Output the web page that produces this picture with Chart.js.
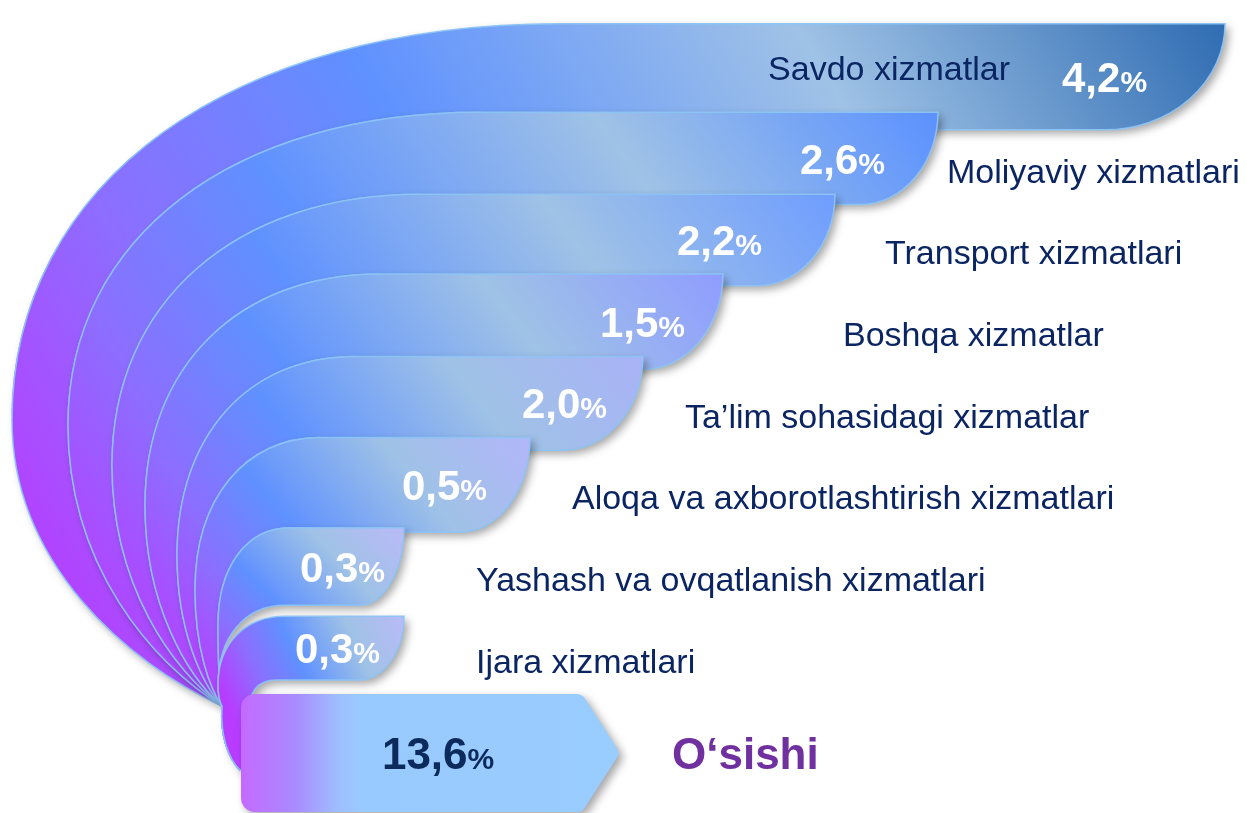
<!DOCTYPE html>
<html>
<head>
<meta charset="utf-8">
<script src="https://cdn.jsdelivr.net/npm/chart.js@4/dist/chart.umd.min.js"></script>
<style>
  html, body { margin: 0; padding: 0; background: #fff; }
  canvas { display: block; }
</style>
</head>
<body>
<canvas id="growthChart" width="1247" height="813"></canvas>
<script>
// --- data -------------------------------------------------------------
const sectors = [
  'Savdo xizmatlar',
  'Moliyaviy xizmatlari',
  'Transport xizmatlari',
  'Boshqa xizmatlar',
  'Ta\u2019lim sohasidagi xizmatlar',
  'Aloqa va axborotlashtirish xizmatlari',
  'Yashash va ovqatlanish xizmatlari',
  'Ijara xizmatlari'
];
const growth = [4.2, 2.6, 2.2, 1.5, 2.0, 0.5, 0.3, 0.3];
const totalLabel = 'O\u2018sishi';
const totalGrowth = [13.6];

// --- look of the swooshes (decorative, not data) ----------------------
const FONT = '"Liberation Sans", Arial, sans-serif';
const TIP = [240, 770];          // where all band tails end (under the arrow)
const JOIN = [222, 706];         // where the tails bundle together
const K = 0.6;                   // roundness of the top-left arcs
const bandStyle = {
  reach:    [98.24, 75.22, 66.96, 57.98, 51.56, 42.5, 32.4, 32.4], // x-axis units (% of width)
  flatFrom: [560, 480, 420, 380, 355, 320, 290, 285],
  leftX:    [12, 68, 112, 145, 177, 195, 218, 218],
  leftY:    [420, 425, 465, 505, 555, 590, 625, 685],
  thick:    [1.3, 1.13, 1.12, 1.17, 1.15, 1.16, 0.95, 0.78],
  capW:     [120, 78, 78, 80, 80, 70, 45, 45],
  pctInset: [78, 53, 73, 38, 36, 43, 19, 24],
  labelGap: [null, 9, 50, 120, 42, 42, 72, 72],
  endColor: ['#2f6cb2', '#5b91ff', '#6f9dff', '#8f9cff', '#a9b2f7', '#b2b6fa', '#babaf8', '#babaf8']
};

const fmt = v => v.toFixed(1).replace('.', ',');

function bandGeom(chart, i) {
  const bar = chart.getDatasetMeta(0).data[i];
  const h = bar.height * bandStyle.thick[i];
  return {
    cy: bar.y,
    top: bar.y - h / 2,
    bottom: bar.y + h / 2,
    right: chart.scales.x.getPixelForValue(bandStyle.reach[i]),
    flat: bandStyle.flatFrom[i],
    lx: bandStyle.leftX[i],
    ly: bandStyle.leftY[i],
    cap: bandStyle.capW[i]
  };
}

// from the tip, up the tail and round the top-left arc to where the top edge goes flat
function outerUp(ctx, g) {
  const [tx, ty] = TIP;
  const [jx, jy] = JOIN;
  ctx.moveTo(tx, ty);
  ctx.bezierCurveTo(228, 758, 220, 735, jx, jy);
  ctx.bezierCurveTo(g.lx + 0.55 * (jx - g.lx), jy - 0.15 * (jy - g.ly),
                    g.lx, g.ly + 0.5 * (jy - g.ly), g.lx, g.ly);
  ctx.bezierCurveTo(g.lx, g.ly - K * (g.ly - g.top),
                    g.flat - K * (g.flat - g.lx), g.top, g.flat, g.top);
}

// the same outline walked back down, starting its arc at height top
function outerDown(ctx, g, top) {
  const [tx, ty] = TIP;
  const [jx, jy] = JOIN;
  ctx.bezierCurveTo(g.flat - K * (g.flat - g.lx), top,
                    g.lx, g.ly - K * (g.ly - top), g.lx, g.ly);
  ctx.bezierCurveTo(g.lx, g.ly + 0.5 * (jy - g.ly),
                    g.lx + 0.55 * (jx - g.lx), jy - 0.15 * (jy - g.ly), jx, jy);
  ctx.bezierCurveTo(220, 735, 228, 758, tx, ty);
}

function drawPct(ctx, text, x, cy, color, big, small, align) {
  ctx.font = `bold ${big}px ${FONT}`;
  const wNum = ctx.measureText(text).width;
  ctx.font = `bold ${small}px ${FONT}`;
  const wPct = ctx.measureText('%').width;
  const w = wNum + wPct;
  const x0 = align === 'center' ? x - w / 2 : x - w;
  const base = cy + big * 0.36;
  ctx.fillStyle = color;
  ctx.textAlign = 'left';
  ctx.textBaseline = 'alphabetic';
  ctx.font = `bold ${big}px ${FONT}`;
  ctx.fillText(text, x0, base);
  ctx.font = `bold ${small}px ${FONT}`;
  ctx.fillText('%', x0 + wNum, base);
  return x0;
}

const swooshPlugin = {
  id: 'swooshBands',
  afterDatasetsDraw(chart) {
    const ctx = chart.ctx;
    const n = growth.length;
    const geo = [];
    for (let i = 0; i < n; i++) geo.push(bandGeom(chart, i));
    const [tx, ty] = TIP;

    // bands, back to front
    for (let i = 0; i < n; i++) {
      const g = geo[i];
      const next = geo[i + 1];
      ctx.save();
      ctx.beginPath();
      outerUp(ctx, g);
      ctx.lineTo(g.right, g.top);
      ctx.ellipse(g.right - g.cap, g.top, g.cap, g.bottom - g.top, 0, 0, Math.PI / 2);
      if (next) {
        const t0 = Math.min(g.bottom, next.top);
        ctx.lineTo(next.flat, g.bottom);
        ctx.lineTo(next.flat, t0);
        outerDown(ctx, next, t0);
      } else {
        const ix = g.lx + 31;
        ctx.lineTo(g.flat - 8, g.bottom);
        ctx.bezierCurveTo(ix + 6, g.bottom, ix, g.bottom + 14, ix, g.bottom + 34);
        ctx.lineTo(tx + 6, ty);
      }
      ctx.closePath();

      const grad = ctx.createLinearGradient(g.lx + 0.35 * (tx - g.lx), ty - 70, g.right, g.top);
      grad.addColorStop(0, '#b83cff');
      grad.addColorStop(0.2, '#8c6eff');
      grad.addColorStop(0.42, '#5f91ff');
      grad.addColorStop(0.72, '#9fc2e6');
      grad.addColorStop(1, bandStyle.endColor[i]);
      ctx.fillStyle = grad;
      ctx.shadowColor = 'rgba(0,0,0,0.35)';
      ctx.shadowBlur = 8;
      ctx.shadowOffsetX = 4;
      ctx.shadowOffsetY = 4;
      ctx.fill();
      ctx.shadowColor = 'rgba(0,0,0,0)';
      ctx.strokeStyle = 'rgba(140,196,246,0.95)';
      ctx.lineWidth = 1.5;
      ctx.stroke();
      ctx.restore();
    }

    // total arrow
    const area = chart.chartArea;
    const aTop = area.bottom + 5;
    const aBot = aTop + 118;
    const aMid = (aTop + aBot) / 2;
    const aL = 241, aK = 582, aTip = 620;
    ctx.save();
    ctx.beginPath();
    ctx.moveTo(aL + 14, aTop);
    ctx.arcTo(aK, aTop, aTip, aMid, 10);
    ctx.arcTo(aTip, aMid, aK, aBot, 8);
    ctx.arcTo(aK, aBot, aL, aBot, 10);
    ctx.arcTo(aL, aBot, aL, aTop, 14);
    ctx.arcTo(aL, aTop, aK, aTop, 14);
    ctx.closePath();
    const ag = ctx.createLinearGradient(aL, 0, aTip, 0);
    ag.addColorStop(0, '#c46aff');
    ag.addColorStop(0.14, '#a98aff');
    ag.addColorStop(0.26, '#9ec0ff');
    ag.addColorStop(0.32, '#99caff');
    ag.addColorStop(1, '#99ccff');
    ctx.fillStyle = ag;
    ctx.shadowColor = 'rgba(0,0,0,0.35)';
    ctx.shadowBlur = 8;
    ctx.shadowOffsetX = 4;
    ctx.shadowOffsetY = 4;
    ctx.fill();
    ctx.restore();

    // texts
    ctx.save();
    for (let i = 0; i < n; i++) {
      const g = geo[i];
      const pctLeft = drawPct(ctx, fmt(growth[i]), g.right - bandStyle.pctInset[i], g.cy, '#ffffff', 42, 30);
      ctx.font = `34px ${FONT}`;
      ctx.fillStyle = '#0b2563';
      ctx.textBaseline = 'middle';
      const gap = bandStyle.labelGap[i];
      if (gap === null) {
        ctx.textAlign = 'right';
        ctx.fillText(sectors[i], pctLeft - 52, g.cy - 6);
      } else {
        ctx.textAlign = 'left';
        ctx.fillText(sectors[i], g.right + gap, g.cy + 15);
      }
    }
    drawPct(ctx, fmt(totalGrowth[0]), aL + (aTip - aL) * 0.52, aMid, '#0c2a5b', 44, 30, 'center');
    ctx.font = `bold 44px ${FONT}`;
    ctx.fillStyle = '#7030a0';
    ctx.textAlign = 'left';
    ctx.textBaseline = 'alphabetic';
    ctx.fillText(totalLabel, aTip + 52, aMid + 44 * 0.36);
    ctx.restore();
  }
};

new Chart(document.getElementById('growthChart'), {
  type: 'bar',
  data: {
    labels: sectors,
    datasets: [{
      label: 'O\u2018sish, %',
      data: growth,
      backgroundColor: 'rgba(0,0,0,0)',
      borderWidth: 0,
      categoryPercentage: 1,
      barPercentage: 1
    }]
  },
  options: {
    indexAxis: 'y',
    responsive: false,
    animation: false,
    layout: { padding: { top: 36, bottom: 124, left: 0, right: 0 } },
    scales: {
      x: { display: false, min: 0, max: 100 },
      y: { display: false }
    },
    plugins: {
      legend: { display: false },
      tooltip: { enabled: false }
    }
  },
  plugins: [swooshPlugin]
});
</script>
</body>
</html>
